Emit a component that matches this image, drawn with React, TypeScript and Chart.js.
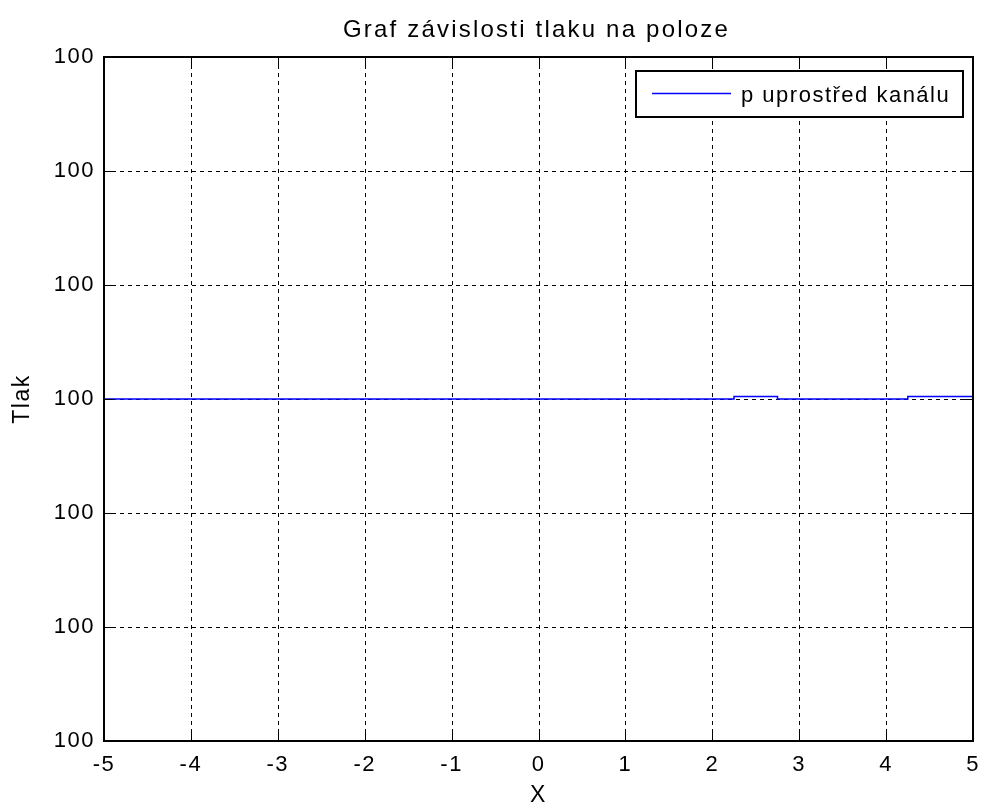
import { useEffect, useRef } from 'react';
import { Chart, registerables } from 'chart.js';

Chart.register(...registerables);

const FONT = '"Liberation Sans", Arial, Helvetica, sans-serif';

const chartTitle = 'Graf závislosti tlaku na poloze';
const xAxisTitle = 'X';
const yAxisTitle = 'Tlak';
const seriesLabel = 'p uprostřed kanálu';

// pressure in the middle of the channel along x
const positionX = [-5, 2.25, 2.25, 2.75, 2.75, 4.25, 4.25, 5];
const pressureMid = [100, 100, 100.0000022, 100.0000022, 100, 100, 100.0000022, 100.0000022];

const xTicks = [-5, -4, -3, -2, -1, 0, 1, 2, 3, 4, 5];
const xTickLabels = ['-5', '-4', '-3', '-2', '-1', '0', '1', '2', '3', '4', '5'];
const yTicks = [99.9997, 99.9998, 99.9999, 100, 100.0001, 100.0002, 100.0003];
const yTickLabels = ['100', '100', '100', '100', '100', '100', '100'];

const TICK_LEN = 9;

// MATLAB-like axes: dashed grid, full box, inward tick marks, boxed legend, title
const matlabAxes = {
  id: 'matlabAxes',
  beforeUpdate(chart: any) {
    chart.ctx.letterSpacing = '1.5px';
  },
  beforeDraw(chart: any) {
    chart.ctx.letterSpacing = '1.5px';
  },
  beforeDatasetsDraw(chart: any) {
    const { ctx, chartArea: a, scales } = chart;
    const xs = scales.x;
    const ys = scales.y;
    ctx.save();
    ctx.strokeStyle = '#000';
    ctx.lineWidth = 1;
    ctx.setLineDash([4, 4]);
    for (const v of xTicks.slice(1, -1)) {
      const px = Math.round(xs.getPixelForValue(v)) + 0.5;
      ctx.beginPath();
      ctx.moveTo(px, a.top);
      ctx.lineTo(px, a.bottom);
      ctx.stroke();
    }
    for (const v of yTicks.slice(1, -1)) {
      const py = Math.round(ys.getPixelForValue(v)) + 0.5;
      ctx.beginPath();
      ctx.moveTo(a.left, py);
      ctx.lineTo(a.right, py);
      ctx.stroke();
    }
    ctx.restore();
  },
  afterDatasetsDraw(chart: any) {
    const { ctx, chartArea: a, scales } = chart;
    const xs = scales.x;
    const ys = scales.y;
    const L = Math.round(a.left);
    const R = Math.round(a.right);
    const T = Math.round(a.top);
    const B = Math.round(a.bottom);
    ctx.save();
    ctx.strokeStyle = '#000';
    ctx.lineWidth = 2;
    ctx.setLineDash([]);
    ctx.strokeRect(L, T, R - L, B - T);
    ctx.lineWidth = 1;
    ctx.beginPath();
    for (const v of xTicks) {
      const px = Math.round(xs.getPixelForValue(v)) + 0.5;
      ctx.moveTo(px, B);
      ctx.lineTo(px, B - TICK_LEN);
      ctx.moveTo(px, T);
      ctx.lineTo(px, T + TICK_LEN);
    }
    for (const v of yTicks) {
      const py = Math.round(ys.getPixelForValue(v)) + 0.5;
      ctx.moveTo(L, py);
      ctx.lineTo(L + TICK_LEN, py);
      ctx.moveTo(R, py);
      ctx.lineTo(R - TICK_LEN, py);
    }
    ctx.stroke();

    // legend box in the upper right corner
    const ds = chart.data.datasets[0];
    ctx.font = `22px ${FONT}`;
    ctx.letterSpacing = '1.5px';
    const tw = ctx.measureText(ds.label).width;
    const padL = 16;
    const lineLen = 79;
    const gap = 10;
    const padR = 13;
    const h = 46;
    const w = Math.round(padL + lineLen + gap + tw + padR);
    const bx1 = R - 10;
    const by0 = T + 14;
    const bx0 = bx1 - w;
    ctx.fillStyle = '#fff';
    ctx.fillRect(bx0, by0, w, h);
    ctx.lineWidth = 2;
    ctx.strokeRect(bx0, by0, w, h);
    const cy = Math.round(by0 + h / 2) - 0.5;
    ctx.strokeStyle = ds.borderColor;
    ctx.lineWidth = ds.borderWidth;
    ctx.beginPath();
    ctx.moveTo(bx0 + padL, cy);
    ctx.lineTo(bx0 + padL + lineLen, cy);
    ctx.stroke();
    ctx.fillStyle = '#000';
    ctx.textAlign = 'left';
    ctx.textBaseline = 'middle';
    ctx.fillText(ds.label, bx0 + padL + lineLen + gap, cy + 2);
    ctx.restore();
  },
  afterDraw(chart: any) {
    const { ctx, chartArea: a } = chart;
    ctx.save();
    ctx.font = `24px ${FONT}`;
    ctx.letterSpacing = '2.2px';
    ctx.fillStyle = '#000';
    ctx.textAlign = 'center';
    ctx.textBaseline = 'alphabetic';
    ctx.fillText(chartTitle, (a.left + a.right) / 2 - 2, 37);
    ctx.restore();
  },
};

export default function App() {
  const canvasRef = useRef<HTMLCanvasElement | null>(null);

  useEffect(() => {
    document.body.style.margin = '0';
    const canvas = canvasRef.current;
    if (!canvas) return;
    const tickFont = { family: FONT, size: 22 };
    const chart = new Chart(canvas, {
      type: 'line',
      data: {
        datasets: [
          {
            label: seriesLabel,
            data: positionX.map((x, i) => ({ x, y: pressureMid[i] })),
            borderColor: '#0000ff',
            borderWidth: 1.5,
            pointRadius: 0,
            tension: 0,
            fill: false,
          },
        ],
      },
      options: {
        animation: false,
        responsive: false,
        events: [],
        layout: { padding: { top: 57, right: 10, bottom: 0, left: 0 } },
        plugins: {
          legend: { display: false },
          title: { display: false },
          tooltip: { enabled: false },
        },
        scales: {
          x: {
            type: 'linear',
            min: xTicks[0],
            max: xTicks[xTicks.length - 1],
            afterBuildTicks: (s: any) => {
              s.ticks = xTicks.map((value) => ({ value }));
            },
            afterFit: (s: any) => {
              s.height = 68;
              s.paddingLeft = 0;
              s.paddingRight = 0;
            },
            grid: { display: false, drawTicks: false },
            border: { display: false },
            ticks: {
              font: tickFont,
              color: '#000',
              padding: 11,
              autoSkip: false,
              maxRotation: 0,
              callback: (_v: any, i: number) => xTickLabels[i],
            },
            title: {
              display: true,
              text: xAxisTitle,
              font: { family: FONT, size: 23 },
              color: '#000',
              padding: { top: 0, bottom: 0 },
            },
          },
          y: {
            type: 'linear',
            min: yTicks[0],
            max: yTicks[yTicks.length - 1],
            afterBuildTicks: (s: any) => {
              s.ticks = yTicks.map((value) => ({ value }));
            },
            afterFit: (s: any) => {
              s.width = 104;
              s.paddingTop = 0;
              s.paddingBottom = 0;
            },
            grid: { display: false, drawTicks: false },
            border: { display: false },
            ticks: {
              font: tickFont,
              color: '#000',
              padding: 9,
              autoSkip: false,
              callback: (_v: any, i: number) => yTickLabels[i],
            },
            title: {
              display: true,
              text: yAxisTitle,
              font: { family: FONT, size: 23 },
              color: '#000',
              padding: { top: 9, bottom: 0 },
            },
          },
        },
      },
      plugins: [matlabAxes],
    } as any);
    return () => chart.destroy();
  }, []);

  return (
    <div style={{ width: 983, height: 809 }}>
      <canvas ref={canvasRef} width={983} height={809} />
    </div>
  );
}
